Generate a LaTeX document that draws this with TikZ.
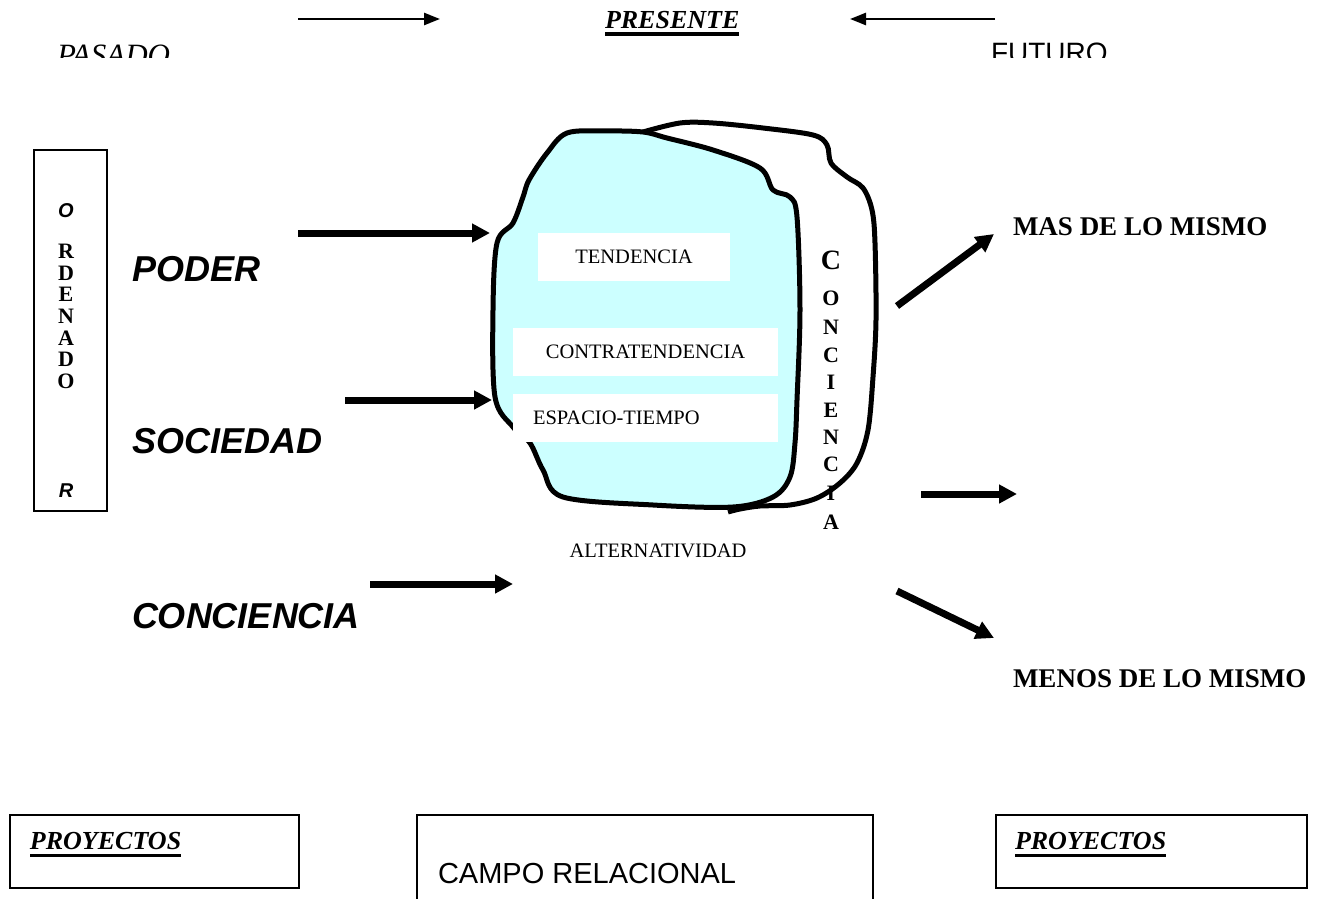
\documentclass[tikz,border=0pt]{standalone}
\usepackage{fontspec}
\setmainfont{Liberation Serif}
\setsansfont{Liberation Sans}
\usetikzlibrary{arrows.meta,calc}
\definecolor{blobcyan}{HTML}{CCFFFF}
\newcommand\fsz[1]{\fontsize{#1}{#1}\selectfont}
\begin{document}
\begin{tikzpicture}[x=0.5pt,y=-0.5pt,
  lbl/.style={inner sep=0pt, outer sep=0pt},
  thinarrow/.style={line width=1.25pt, -{Triangle[length=8pt,width=6pt]}},
  thickarrow/.style={line width=3.5pt, -{Triangle[length=9pt,width=9pt]}},
  framebox/.style={draw, line width=0.8pt, inner sep=0pt, anchor=north west},
  blobline/.style={line width=2.5pt, line join=round},
  ulline/.style={line width=1.5pt},
  wbox/.style={fill=white, draw=none, inner sep=0pt, outer sep=0pt, anchor=north west},
  serifbi/.style={font=\bfseries\itshape\fsz{13}},
  sansbi/.style={font=\sffamily\bfseries\itshape\fsz{18}},
  boxtext/.style={font=\fsz{10.25}},
  vletter/.style={lbl, font=\bfseries\fsz{11}},
  oletter/.style={lbl, font=\bfseries\fsz{11}},
]
\useasboundingbox (0,0) rectangle (1318,899);
\fill[white] (0,0) rectangle (1318,899);

% ---------- top row ----------
\coordinate (ta1s) at (298,19);
\coordinate (ta1e) at (440,19);
\coordinate (ta2s) at (995,19);
\coordinate (ta2e) at (850,19);
\draw[thinarrow] (ta1s) -- (ta1e);
\draw[thinarrow] (ta2s) -- (ta2e);
\node[lbl, serifbi, anchor=base west] (presente) at (605,29) {PRESENTE};
\draw[line width=1.6pt] ($(presente.base west)+(0,5)$) -- ($(presente.base east)+(0,5)$);
\begin{scope}
  \clip (0,0) rectangle (1318,58);
  \node[lbl, anchor=base west, font=\itshape\fsz{15.5}] (pasado) at (57,65.5) {PASADO};
  \node[lbl, anchor=base west, font=\sffamily\fsz{14}] (futuro) at (991,63) {FUTURO};
\end{scope}

% ---------- ORDENADOR box ----------
\node[framebox, minimum width=36.5pt, minimum height=180.5pt] (ordbox) at (33,149) {};
\node[lbl, font=\sffamily\bfseries\itshape\fsz{10}] (ordO) at (66,211) {O};
\foreach \l/\y [count=\i] in {R/251,D/273,E/294,N/316,A/338,D/359,O/381}
  \node[oletter] (ord\i) at (66,\y) {\l};
\node[lbl, font=\sffamily\bfseries\itshape\fsz{10}] (ordR) at (66,491) {R};

% ---------- left labels ----------
\node[lbl, sansbi, anchor=base west] (poder) at (132,281) {PODER};
\node[lbl, sansbi, anchor=base west] (sociedad) at (132,453) {SOCIEDAD};
\node[lbl, sansbi, anchor=base west] (conciencia) at (132,628) {CONCIENCIA};

% ---------- blobs ----------
\draw[blobline, fill=white] plot[smooth, tension=0.55] coordinates {
  (643,132) (680,123) (713,123) (763,128) (813,135) (827,145) (831,163)
  (847,177) (863,188) (872,210) (875,243) (876,320) (873,377) (868,430)
  (857,463) (840,483) (817,498) (790,505) (760,506) (740,509) (728,512)};
\draw[blobline, fill=blobcyan] plot[smooth cycle, tension=0.55] coordinates {
  (567,133) (605,131) (643,132) (667,138) (713,150) (760,168) (773,190)
  (790,197) (797,217) (800,310) (797,400) (795,443) (790,477) (773,497)
  (733,507) (653,505) (563,497) (543,470) (530,443) (513,427) (495,397)
  (493,310) (497,243) (513,223) (523,197) (529,180) (547,153)};

\node[wbox, minimum width=96pt, minimum height=24pt] (tendbox) at (538,233) {};
\node[lbl, boxtext] (tend) at (tendbox.center) {TENDENCIA};
\node[wbox, minimum width=132.5pt, minimum height=24pt] (contbox) at (513,328) {};
\node[lbl, boxtext] (cont) at (contbox.center) {CONTRATENDENCIA};
\node[wbox, minimum width=132.5pt, minimum height=24pt] (espbox) at (513,394) {};
\node[lbl, boxtext, anchor=west] (esp) at (533,418) {ESPACIO-TIEMPO};

% CONCIENCIA vertical
\node[lbl, font=\bfseries\fsz{14}] (vc0) at (831,260) {C};
\foreach \l/\y [count=\i] in {O/298,N/327,C/355,I/382,E/410,N/437,C/464,I/493,A/522}
  \node[vletter] (vc\i) at (831,\y) {\l};

\node[lbl, font=\fsz{10.25}] (alt) at (658,551) {ALTERNATIVIDAD};

% ---------- input arrows ----------
\coordinate (pa) at (298,233);  \coordinate (pb) at (490,233);
\coordinate (sa) at (345,400);  \coordinate (sb) at (492,400);
\coordinate (ca) at (370,584);  \coordinate (cb) at (513,584);
\draw[thickarrow] (pa) -- (pb);
\draw[thickarrow] (sa) -- (sb);
\draw[thickarrow] (ca) -- (cb);

% ---------- output arrows ----------
\coordinate (r1a) at (897,306); \coordinate (r1b) at (994,234);
\coordinate (r2a) at (921,494); \coordinate (r2b) at (1017,494);
\coordinate (r3a) at (897,591); \coordinate (r3b) at (994,638);
\draw[thickarrow] (r1a) -- (r1b);
\draw[thickarrow] (r2a) -- (r2b);
\draw[thickarrow] (r3a) -- (r3b);

\node[lbl, anchor=west, font=\bfseries\fsz{13.5}] (mas) at (1013,227) {MAS DE LO MISMO};
\node[lbl, anchor=west, font=\bfseries\fsz{13.5}] (menos) at (1013,679) {MENOS DE LO MISMO};

% ---------- bottom boxes ----------
\node[framebox, minimum width=144.5pt, minimum height=36.5pt] (projL) at (9,814) {};
\node[lbl, serifbi, anchor=base west] (projLt) at (30,849) {PROYECTOS};
\draw[ulline] ($(projLt.base west)+(0,6)$) -- ($(projLt.base east)+(0,6)$);

\node[framebox, minimum width=155.5pt, minimum height=36.5pt] (projR) at (995,814) {};
\node[lbl, serifbi, anchor=base west] (projRt) at (1015,849) {PROYECTOS};
\draw[ulline] ($(projRt.base west)+(0,6)$) -- ($(projRt.base east)+(0,6)$);

\coordinate (cmA) at (417,899);
\coordinate (cmB) at (417,815);
\coordinate (cmC) at (873,815);
\coordinate (cmD) at (873,899);
\draw[line width=0.8pt] (cmA) -- (cmB) -- (cmC) -- (cmD);
\node[lbl, anchor=base west, font=\sffamily\fsz{14.5}] (campo) at (438,883) {CAMPO RELACIONAL};
\end{tikzpicture}
\end{document}
